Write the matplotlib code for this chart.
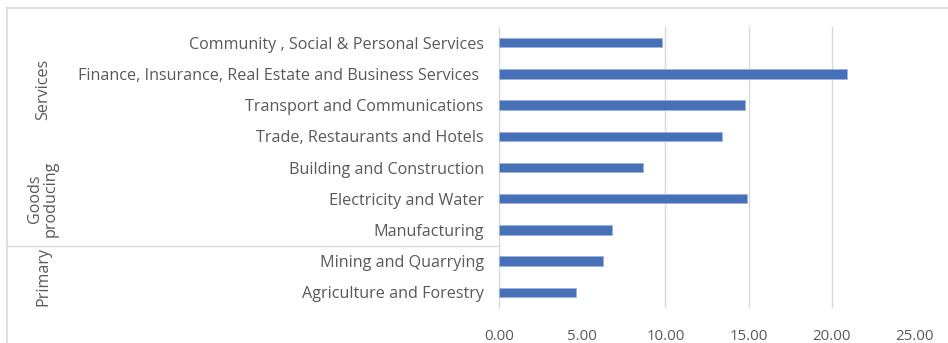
import matplotlib
matplotlib.use("Agg")
import matplotlib.pyplot as plt
from matplotlib.transforms import blended_transform_factory

categories = [
    "Community , Social & Personal Services",
    "Finance, Insurance, Real Estate and Business Services ",
    "Transport and Communications",
    "Trade, Restaurants and Hotels",
    "Building and Construction",
    "Electricity and Water",
    "Manufacturing",
    "Mining and Quarrying",
    "Agriculture and Forestry",
]
values = [9.81, 20.89, 14.78, 13.40, 8.67, 14.88, 6.81, 6.25, 4.63]
groups = ["Services", "Goods\nproducing", "Primary"]
group_sizes = [4, 3, 2]
xticks = [0, 5, 10, 15, 20, 25]
xticklabels = ["0.00", "5.00", "10.00", "15.00", "20.00", "25.00"]

plt.rcParams['font.family'] = ['Open Sans', 'DejaVu Sans']
W, H = 948, 343
fig = plt.figure(figsize=(W / 100, H / 100), dpi=100)
ax = fig.add_axes([499 / W, 35 / H, 416 / W, 281 / H])

n = len(categories)
ypos = list(range(n))
ax.barh(ypos, values, height=0.3, color="#4670B8", edgecolor="#9DB3DC", linewidth=0.6, zorder=3)
ax.set_ylim(n - 0.5, -0.5)
ax.set_xlim(0, 25)
ax.set_yticks(ypos)
ax.set_yticklabels(categories, fontsize=11.6, color="#595959")
ax.set_xticks(xticks)
ax.set_xticklabels(xticklabels, fontsize=10.8, color="#595959")
ax.tick_params(axis="y", length=0, pad=11)
ax.tick_params(axis="x", length=0, pad=15)
ax.grid(axis="x", color="#D9D9D9", linewidth=1, zorder=0)
for g, t in zip(ax.get_xgridlines(), xticks):
    if t in (0, 5, 25):
        g.set_visible(False)
for s in ["top", "right", "bottom"]:
    ax.spines[s].set_visible(False)
ax.spines["left"].set_color("#D9D9D9")
ax.spines["left"].set_linewidth(1)

# group labels
tr = blended_transform_factory(fig.transFigure, ax.transData)
start = 0
for gname, size in zip(groups, group_sizes):
    center = start + (size - 1) / 2
    ax.text(43 / W, center, gname, transform=tr, rotation=90, ha="center", va="center",
            fontsize=11.6, color="#595959", linespacing=1.0, clip_on=False)
    start += size
# separator between Goods producing and Primary
sep = group_sizes[0] + group_sizes[1] - 0.5
ax.plot([7 / W, 499 / W], [sep, sep], transform=tr, color="#D9D9D9", linewidth=1, clip_on=False)

# outer border (top and left)
fig.add_artist(plt.Line2D([7 / W, 1], [1 - 8 / H, 1 - 8 / H], transform=fig.transFigure, color="#D9D9D9", linewidth=1.2))
fig.add_artist(plt.Line2D([7 / W, 7 / W], [0, 1 - 8 / H], transform=fig.transFigure, color="#D9D9D9", linewidth=1.2))

fig.savefig("out.png", dpi=100)
